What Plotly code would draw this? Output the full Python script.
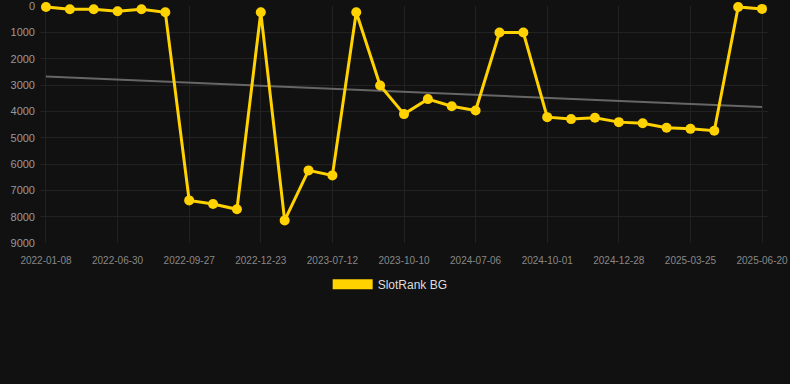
import numpy as np
import plotly.graph_objects as go

dates = ["2022-01-08", "2022-03-05", "2022-05-02", "2022-06-30", "2022-07-28", "2022-08-29",
         "2022-09-27", "2022-10-25", "2022-11-24", "2022-12-23", "2023-03-10", "2023-05-25",
         "2023-07-12", "2023-08-10", "2023-09-11", "2023-10-10", "2024-02-12", "2024-05-01",
         "2024-07-06", "2024-08-05", "2024-09-02", "2024-10-01", "2024-10-30", "2024-11-28",
         "2024-12-28", "2025-01-25", "2025-02-24", "2025-03-25", "2025-04-23", "2025-05-22",
         "2025-06-20"]
ranks = [25, 115, 115, 190, 115, 230,
         7380, 7520, 7720, 230, 8140, 6240,
         6430, 230, 3010, 4100, 3530, 3800,
         3960, 1000, 1000, 4215, 4290, 4240,
         4405, 4445, 4620, 4660, 4730, 25,
         100]
series_name = "SlotRank BG"
yticks = [0, 1000, 2000, 3000, 4000, 5000, 6000, 7000, 8000, 9000]

idx = np.arange(len(dates))
slope, intercept = np.polyfit(idx, ranks, 1)
trend = slope * idx + intercept

fig = go.Figure()
fig.add_trace(go.Scatter(x=dates, y=trend, mode="lines",
                         line=dict(color="#666666", width=2), showlegend=False, hoverinfo="skip"))
fig.add_trace(go.Scatter(x=dates, y=ranks, mode="lines+markers", name=series_name,
                         line=dict(color="#FFD200", width=3), marker=dict(size=10, color="#FFD200"),
                         showlegend=False, cliponaxis=False))
fig.add_trace(go.Scatter(x=[None], y=[None], mode="lines", name=series_name,
                         line=dict(color="#FFD200", width=12), showlegend=True))

fig.update_layout(
    width=790, height=384,
    paper_bgcolor="#111111", plot_bgcolor="#111111",
    margin=dict(l=40, r=22, t=6, b=141, autoexpand=False),
    font=dict(family="Liberation Sans, Arial, sans-serif", color="#999999"),
    xaxis=dict(type="category", range=[-0.25, len(dates) - 0.75],
               tickvals=dates[::3], ticktext=dates[::3], tickangle=0, automargin=False,
               showgrid=True, gridcolor="#222222", gridwidth=1,
               tickfont=dict(size=10, color="#888888"), zeroline=False,
               showline=False, ticks="", ticklabelstandoff=10),
    yaxis=dict(range=[9000, -10], tickvals=yticks, automargin=False,
               showgrid=True, gridcolor="#222222", gridwidth=1,
               tickfont=dict(size=11, color="#999999"), zeroline=False, ticks="",
               ticklabelstandoff=4),
    legend=dict(orientation="h", x=0.481, xanchor="center",
                y=-0.113, yanchor="top",
                font=dict(size=12, color="#dddddd"), itemwidth=40,
                bgcolor="rgba(0,0,0,0)"),
    showlegend=True,
)

fig.write_html("out.html", config={"displayModeBar": False},
               post_script="document.body.style.margin='0';document.body.style.background='#111111';")
